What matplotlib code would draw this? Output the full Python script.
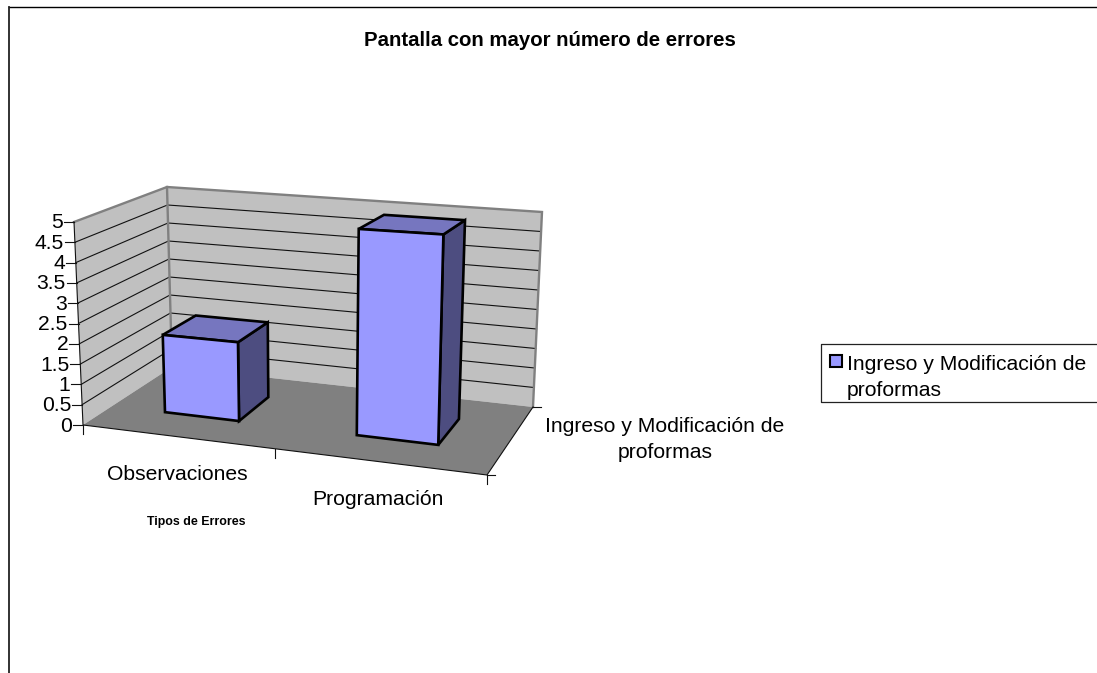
import numpy as np
import matplotlib
matplotlib.use("Agg")
import matplotlib.pyplot as plt

plt.rcParams['font.family'] = ['Liberation Sans', 'DejaVu Sans']

categories = ['Observaciones', 'Programación']
values = [2, 5]
series_name = 'Ingreso y Modificación de\nproformas'
y_ticks = [0, 0.5, 1, 1.5, 2, 2.5, 3, 3.5, 4, 4.5, 5]
y_labels = ['0', '0.5', '1', '1.5', '2', '2.5', '3', '3.5', '4', '4.5', '5']
y_max = 5

# corners of the 3d box in pixels, (front/back, left/right)
FL = np.array([83, 425.])
FR = np.array([487, 475.])
BL = np.array([172, 367.])
BR = np.array([533, 407.])
FL_up = np.array([-9, -203.])
FR_up = np.array([7, -226.])
BL_up = np.array([-5, -180.])
BR_up = np.array([9, -195.])

bar_left = [0.135, 0.627]
bar_right = [0.325, 0.836]
bar_front = 0.33
bar_back = 0.72
top_drop = np.array([0, 2.])  # bars come out a bit tall otherwise

WALL = '#c0c0c0'
FLOOR = '#808080'
EDGE = '#808080'
BAR_FRONT = '#9999ff'
BAR_TOP = '#7676bf'
BAR_SIDE = '#4d4d80'
FS = 15.2


def proj(u, d, v):
    # u along categories 0-1, d depth 0-1, v value
    base = (1-d)*((1-u)*FL + u*FR) + d*((1-u)*BL + u*BR)
    up = (1-d)*((1-u)*FL_up + u*FR_up) + d*((1-u)*BL_up + u*BR_up)
    return base + up*v/y_max


fig = plt.figure(figsize=(10.97, 6.73), dpi=100)
ax = fig.add_axes([0, 0, 1, 1])
ax.set_xlim(0, 1097)
ax.set_ylim(673, 0)
ax.axis('off')

# outer border, only top and left are visible
ax.plot([8.5, 1097], [7, 7], color='black', lw=1.0)
ax.plot([8.5, 8.5], [7, 673], color='#222222', lw=1.3)

# walls and floor
ax.fill(*zip(proj(0, 0, 0), proj(0, 0, y_max), proj(0, 1, y_max), proj(0, 1, 0)), color=WALL, lw=0, zorder=1)
ax.fill(*zip(proj(0, 1, 0), proj(0, 1, y_max), proj(1, 1, y_max), proj(1, 1, 0)), color=WALL, lw=0, zorder=1)
ax.fill(*zip(proj(0, 0, 0), proj(1, 0, 0), proj(1, 1, 0), proj(0, 1, 0)), color=FLOOR, lw=0, zorder=1.5)

# gridlines
for t in y_ticks[1:-1]:
    pts = [proj(0, 0, t), proj(0, 1, t), proj(1, 1, t)]
    ax.plot(*zip(*pts), color='#111111', lw=0.8, zorder=2)

# wall edges
pts = [proj(0, 0, y_max), proj(0, 1, y_max), proj(1, 1, y_max), proj(1, 1, 0)]
ax.plot(*zip(*pts), color=EDGE, lw=1.7, solid_joinstyle='miter', zorder=2)
pts = [proj(0, 1, y_max), proj(0, 1, 0)]
ax.plot(*zip(*pts), color=EDGE, lw=1.7, zorder=2)

# axes
pts = [proj(0, 0, y_max), proj(0, 0, 0), proj(1, 0, 0), proj(1, 1, 0)]
ax.plot(*zip(*pts), color='#111111', lw=0.8, zorder=3)
for t, lab in zip(y_ticks, y_labels):
    p = proj(0, 0, t)
    ax.plot([p[0]-10, p[0]], [p[1], p[1]], color='#111111', lw=0.8, zorder=3)
    ax.text(p[0]-11, p[1]+1, lab, ha='right', va='center', fontsize=FS, color='black')
for u in [0, 0.475, 1]:
    p = proj(u, 0, 0)
    ax.plot([p[0], p[0]], [p[1], p[1]+9], color='#111111', lw=0.8, zorder=3)
for d in [0, 1]:
    p = proj(1, d, 0)
    ax.plot([p[0], p[0]+8], [p[1], p[1]], color='#111111', lw=0.8, zorder=3)

# bars
for i, val in enumerate(values):
    l, r = bar_left[i], bar_right[i]
    f, b = bar_front, bar_back
    fl_top = proj(l, f, val) + top_drop
    fr_top = proj(r, f, val) + top_drop
    bl_top = proj(l, b, val) + top_drop
    br_top = proj(r, b, val) + top_drop
    front = [proj(l, f, 0), fl_top, fr_top, proj(r, f, 0)]
    top = [fl_top, bl_top, br_top, fr_top]
    side = [proj(r, f, 0), fr_top, br_top, proj(r, b, 0)]
    for poly, col in [(side, BAR_SIDE), (top, BAR_TOP), (front, BAR_FRONT)]:
        ax.fill(*zip(*poly), facecolor=col, edgecolor='black', lw=1.9, joinstyle='miter', zorder=4)

# text
ax.text(550, 41, 'Pantalla con mayor número de errores', ha='center', va='center',
        fontsize=14.7, fontweight='bold')
ax.text(177, 475, categories[0], ha='center', va='center', fontsize=FS)
ax.text(378, 499.5, categories[1], ha='center', va='center', fontsize=FS)
ax.text(665, 439.5, series_name, ha='center', va='center', fontsize=FS, linespacing=1.5)
ax.text(196, 522, 'Tipos de Errores', ha='center', va='center', fontsize=8.9, fontweight='bold')

# legend, runs off the right side
ax.plot([1097, 821, 821, 1097], [344, 344, 401.5, 401.5], color='#222222', lw=0.9)
ax.fill([830, 842, 842, 830], [355, 355, 367, 367], facecolor=BAR_FRONT, edgecolor='black', lw=1.5)
ax.text(847, 377.5, series_name, ha='left', va='center', fontsize=FS, linespacing=1.5)

fig.savefig('out.png', dpi=100)
